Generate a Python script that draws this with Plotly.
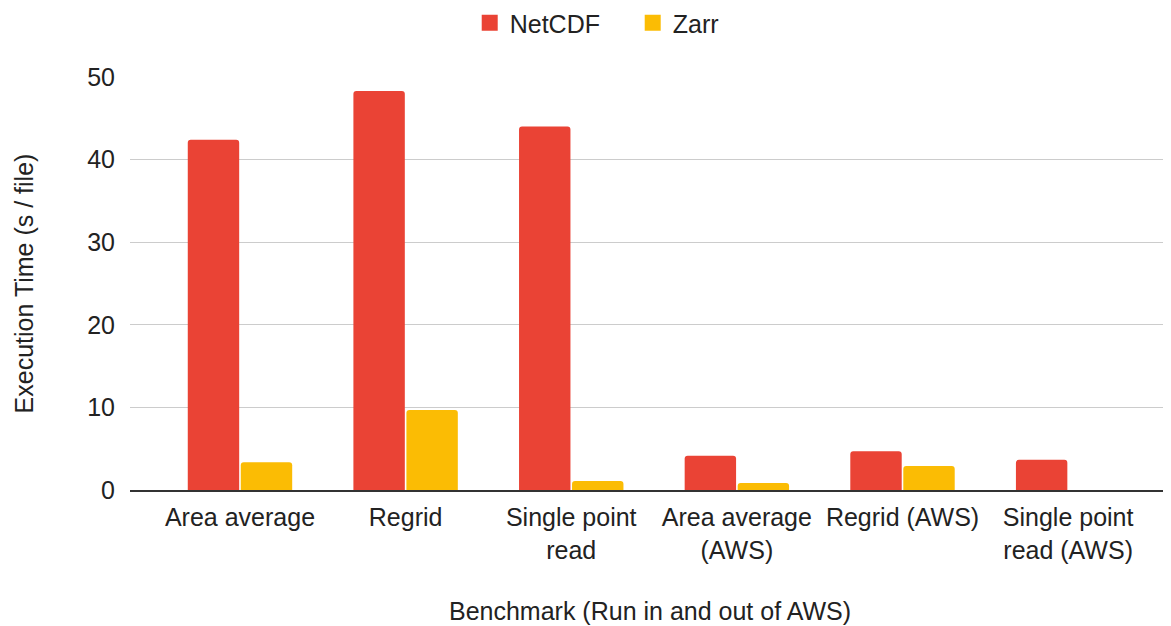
import plotly.graph_objects as go

categories = ["Area average", "Regrid", "Single point<br>read", "Area average<br>(AWS)",
              "Regrid (AWS)", "Single point<br>read (AWS)"]
netcdf = [42.4, 48.3, 44.0, 4.15, 4.7, 3.65]
zarr = [3.35, 9.7, 1.1, 0.85, 2.9, 0.0]
series_names = ["NetCDF", "Zarr"]

RED = "#EA4335"
YELLOW = "#FBBC04"
FONT = "Liberation Sans, Arial, sans-serif"
FS = 25

fig = go.Figure()
for name, vals, col in zip(series_names, [netcdf, zarr], [RED, YELLOW]):
    fig.add_trace(go.Bar(name=name, x=categories, y=vals, marker_color=col,
                         marker_line_width=0, showlegend=False, legendgroup=name))
# legend swatches (larger squares like the reference)
for name, col in zip(series_names, [RED, YELLOW]):
    fig.add_trace(go.Scatter(name=name, x=[None], y=[None], mode="markers",
                             marker=dict(symbol="square", size=24, color=col),
                             legendgroup=name, showlegend=True))

W, H = 1163, 618
fig.update_layout(
    width=W, height=H,
    barmode="group", bargap=0.36, bargroupgap=0.03, barcornerradius=3,
    plot_bgcolor="white", paper_bgcolor="white",
    font=dict(family=FONT, size=FS, color="#222222"),
    margin=dict(l=122, r=1, t=69, b=136),
    legend=dict(orientation="h", xref="container", yref="container", x=0.397, xanchor="left",
                y=1 - 15 / H, yanchor="middle", font=dict(size=FS), itemsizing="trace",
                tracegroupgap=0, entrywidth=118, entrywidthmode="pixels"),
    xaxis=dict(
        range=[-0.664, 5.615],
        showgrid=False, showline=True, linecolor="#333333", linewidth=2,
        ticks="", automargin=False, ticklabelstandoff=4,
        tickfont=dict(size=FS),
        title=dict(text="Benchmark (Run in and out of AWS)", font=dict(size=FS), standoff=40),
    ),
    yaxis=dict(
        range=[0, 50], tickvals=[0, 10, 20, 30, 40, 50],
        showgrid=True, gridcolor="#CCCCCC", gridwidth=1,
        zeroline=False, showline=False, ticks="", automargin=False,
        ticklabelstandoff=14,
        tickfont=dict(size=FS),
        title=dict(text="Execution Time (s / file)", font=dict(size=FS), standoff=46),
    ),
)

fig.write_html("out.html")
